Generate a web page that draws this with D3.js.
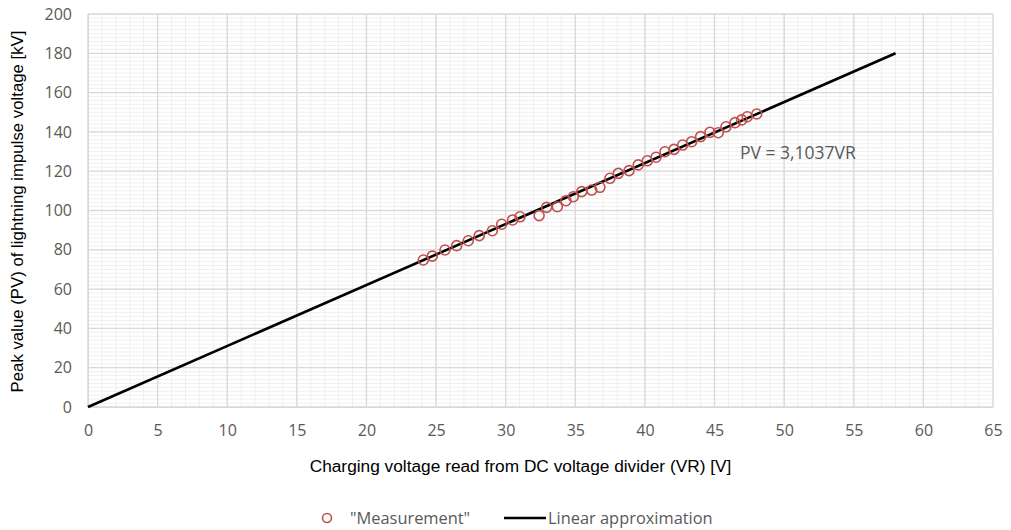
<!DOCTYPE html>
<html><head><meta charset="utf-8">
<script src="https://cdn.jsdelivr.net/npm/d3@7/dist/d3.min.js"></script>
<style>body{margin:0;background:#fff}</style>
</head><body>
<svg id="c" width="1011" height="530"></svg>
<script>
const measX = [24.08,24.73,25.64,26.48,27.31,28.1,29.04,29.71,30.5,31.03,32.4,32.94,33.71,34.33,34.86,35.46,36.18,36.77,37.49,38.09,38.86,39.52,40.17,40.8,41.44,42.09,42.71,43.36,44.0,44.67,45.27,45.82,46.47,46.95,47.35,48.03];
const measY = [74.8,76.8,79.9,82.1,84.6,87.2,89.7,93.0,95.2,96.8,97.4,101.6,101.9,105,107,109.6,110.4,111.8,116.4,118.9,120.3,123.2,125.3,127.1,129.9,131.1,133.3,135,137.6,139.8,139.6,142.6,144.7,146.1,147.7,149.1];
const lineX = [0, 58];
const slope = 3.1037;
const xTicks = [0,5,10,15,20,25,30,35,40,45,50,55,60,65];
const yTicks = [0,20,40,60,80,100,120,140,160,180,200];
const xTitle = "Charging voltage read from DC voltage divider (VR) [V]";
const yTitle = "Peak value (PV) of lightning impulse voltage [kV]";
const eqText = "PV = 3,1037VR";
const legendLabels = ["\"Measurement\"", "Linear approximation"];

const svg = d3.select("#c");
const L=88,R=993,T=14,B=407;
const x = d3.scaleLinear().domain([0,65]).range([L,R]);
const y = d3.scaleLinear().domain([0,200]).range([B,T]);

const g = svg.append("g");
g.selectAll(".mx").data(d3.range(0,66,1)).join("line")
  .attr("x1",d=>x(d)).attr("x2",d=>x(d)).attr("y1",T).attr("y2",B)
  .attr("stroke","#efefef").attr("stroke-width",1);
g.selectAll(".my").data(d3.range(0,201,2)).join("line")
  .attr("y1",d=>y(d)).attr("y2",d=>y(d)).attr("x1",L).attr("x2",R)
  .attr("stroke","#efefef").attr("stroke-width",1);
g.selectAll(".Mx").data(xTicks).join("line")
  .attr("x1",d=>x(d)).attr("x2",d=>x(d)).attr("y1",T).attr("y2",B)
  .attr("stroke","#d9d9d9").attr("stroke-width",1.3);
g.selectAll(".My").data(yTicks).join("line")
  .attr("y1",d=>y(d)).attr("y2",d=>y(d)).attr("x1",L).attr("x2",R)
  .attr("stroke","#d9d9d9").attr("stroke-width",1.3);

const xa = svg.append("g").attr("transform",`translate(0,${B})`)
  .call(d3.axisBottom(x).tickValues(xTicks).tickSize(0).tickPadding(18));
xa.select(".domain").attr("stroke","#d9d9d9");
xa.selectAll("text").attr("font-family","'Open Sans', sans-serif").attr("font-size",16).attr("fill","#595959");
const ya = svg.append("g").attr("transform",`translate(${L},0)`)
  .call(d3.axisLeft(y).tickValues(yTicks).tickSize(0).tickPadding(16));
ya.select(".domain").attr("stroke","#d9d9d9");
ya.selectAll("text").attr("font-family","'Open Sans', sans-serif").attr("font-size",16).attr("fill","#595959");

svg.append("text").attr("x",(L+R)/2-20).attr("y",472).attr("text-anchor","middle")
  .attr("font-family","'Liberation Sans', Arial, sans-serif").attr("font-size",17.3).attr("fill","#000").text(xTitle);
svg.append("text").attr("transform",`translate(23,${(T+B)/2+1}) rotate(-90)`).attr("text-anchor","middle")
  .attr("font-family","'Liberation Sans', Arial, sans-serif").attr("font-size",16.8).attr("fill","#000").text(yTitle);

svg.append("path").datum(lineX)
  .attr("d", d3.line().x(d=>x(d)).y(d=>y(d*slope)))
  .attr("stroke","#000").attr("stroke-width",2.6).attr("fill","none");

svg.selectAll(".pt").data(measX.map((v,i)=>[v,measY[i]])).join("circle")
  .attr("cx",d=>x(d[0])).attr("cy",d=>y(d[1])).attr("r",5)
  .attr("fill","none").attr("stroke","#c0504d").attr("stroke-width",1.6);

svg.append("text").attr("x",740).attr("y",159)
  .attr("font-family","'Open Sans', sans-serif").attr("font-size",17.5).attr("fill","#595959").text(eqText);

const lg = svg.append("g");
lg.append("circle").attr("cx",327).attr("cy",518).attr("r",4.5).attr("fill","none").attr("stroke","#c0504d").attr("stroke-width",1.6);
lg.append("text").attr("x",350).attr("y",524).attr("font-family","'Open Sans', sans-serif").attr("font-size",16.4).attr("fill","#595959").text(legendLabels[0]);
lg.append("line").attr("x1",504).attr("x2",546).attr("y1",518).attr("y2",518).attr("stroke","#000").attr("stroke-width",2.6);
lg.append("text").attr("x",548).attr("y",524).attr("font-family","'Open Sans', sans-serif").attr("font-size",16.4).attr("fill","#595959").text(legendLabels[1]);
</script>
</body></html>
